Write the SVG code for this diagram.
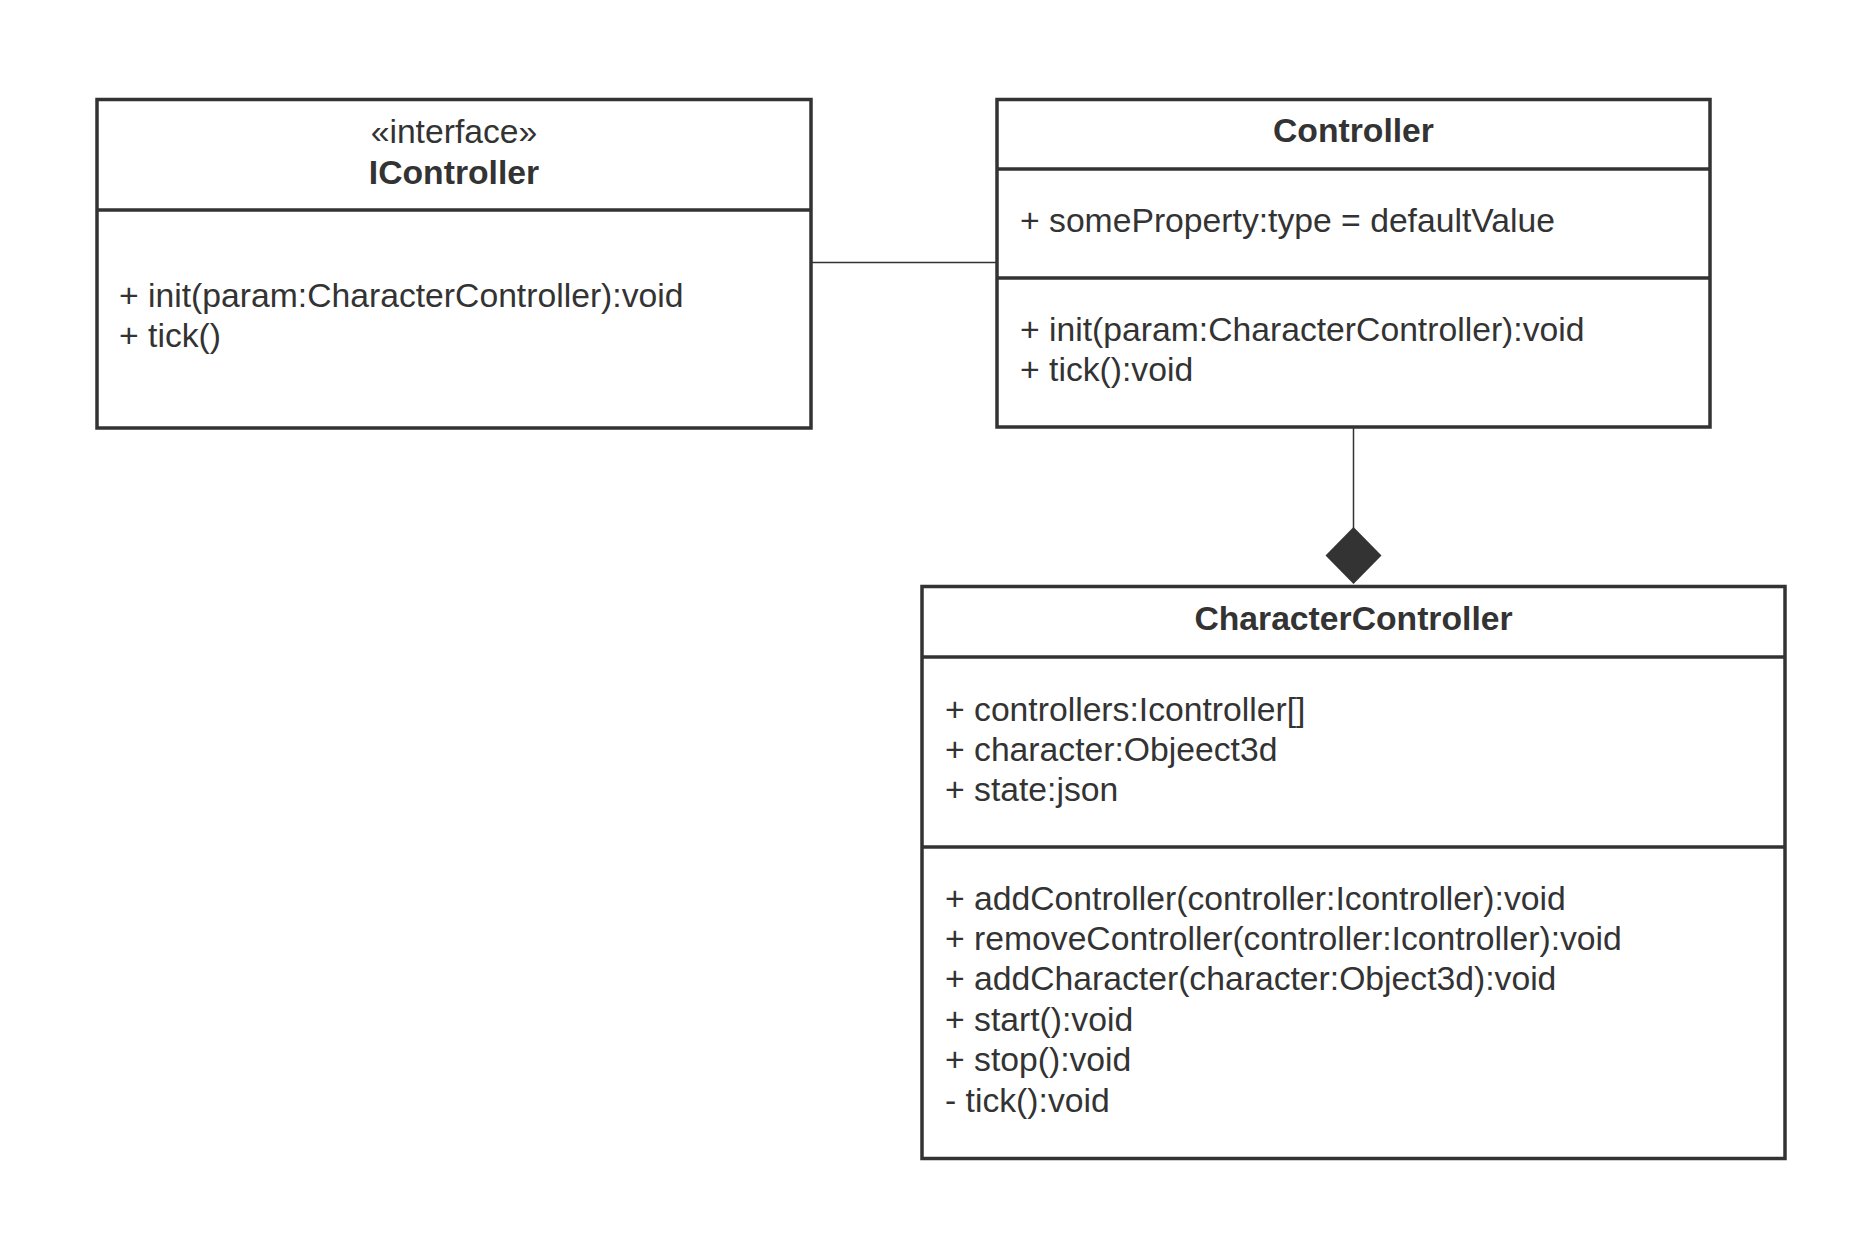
<svg xmlns="http://www.w3.org/2000/svg" width="1853" height="1238" viewBox="0 0 1853 1238">
<style>
.box{fill:#ffffff;stroke:#333333;stroke-width:3.5}
.div{stroke:#333333;stroke-width:3.5}
.t{font-family:"Liberation Sans",Arial,sans-serif;font-size:33.7px;fill:#333333}
.b{font-weight:bold}
.c{text-anchor:middle}
.conn{stroke:#333333;stroke-width:1.5;fill:none}
</style>
<rect width="1853" height="1238" fill="#ffffff"/>
<g id="connectors">
<line class="conn" x1="811" y1="262.5" x2="997" y2="262.5"/>
<line class="conn" x1="1353.5" y1="427" x2="1353.5" y2="528"/>
<polygon points="1353.5,527 1381.5,555.5 1353.5,584 1325.5,555.5" fill="#333333"/>
</g>
<g id="IController">
<rect class="box" x="97" y="99.5" width="714" height="328.5"/>
<line class="div" x1="97" y1="210" x2="811" y2="210"/>
<text class="t c" x="454" y="143">«interface»</text>
<text class="t b c" x="454" y="184">IController</text>
<text class="t" x="119" y="306.5">+ init(param:CharacterController):void</text>
<text class="t" x="119" y="346.5">+ tick()</text>
</g>
<g id="Controller">
<rect class="box" x="997" y="99.5" width="713" height="327.5"/>
<line class="div" x1="997" y1="169" x2="1710" y2="169"/>
<line class="div" x1="997" y1="278" x2="1710" y2="278"/>
<text class="t b c" x="1353.5" y="142">Controller</text>
<text class="t" x="1020" y="231.5">+ someProperty:type = defaultValue</text>
<text class="t" x="1020" y="340.5">+ init(param:CharacterController):void</text>
<text class="t" x="1020" y="380.5">+ tick():void</text>
</g>
<g id="CharacterController">
<rect class="box" x="922" y="586.5" width="863" height="572"/>
<line class="div" x1="922" y1="657" x2="1785" y2="657"/>
<line class="div" x1="922" y1="847" x2="1785" y2="847"/>
<text class="t b c" x="1353.5" y="630">CharacterController</text>
<text class="t" x="945" y="720.5">+ controllers:Icontroller[]</text>
<text class="t" x="945" y="760.5">+ character:Objeect3d</text>
<text class="t" x="945" y="800.5">+ state:json</text>
<text class="t" x="945" y="909.5">+ addController(controller:Icontroller):void</text>
<text class="t" x="945" y="950">+ removeController(controller:Icontroller):void</text>
<text class="t" x="945" y="990">+ addCharacter(character:Object3d):void</text>
<text class="t" x="945" y="1030.5">+ start():void</text>
<text class="t" x="945" y="1071">+ stop():void</text>
<text class="t" x="945" y="1111.5">- tick():void</text>
</g>
</svg>
